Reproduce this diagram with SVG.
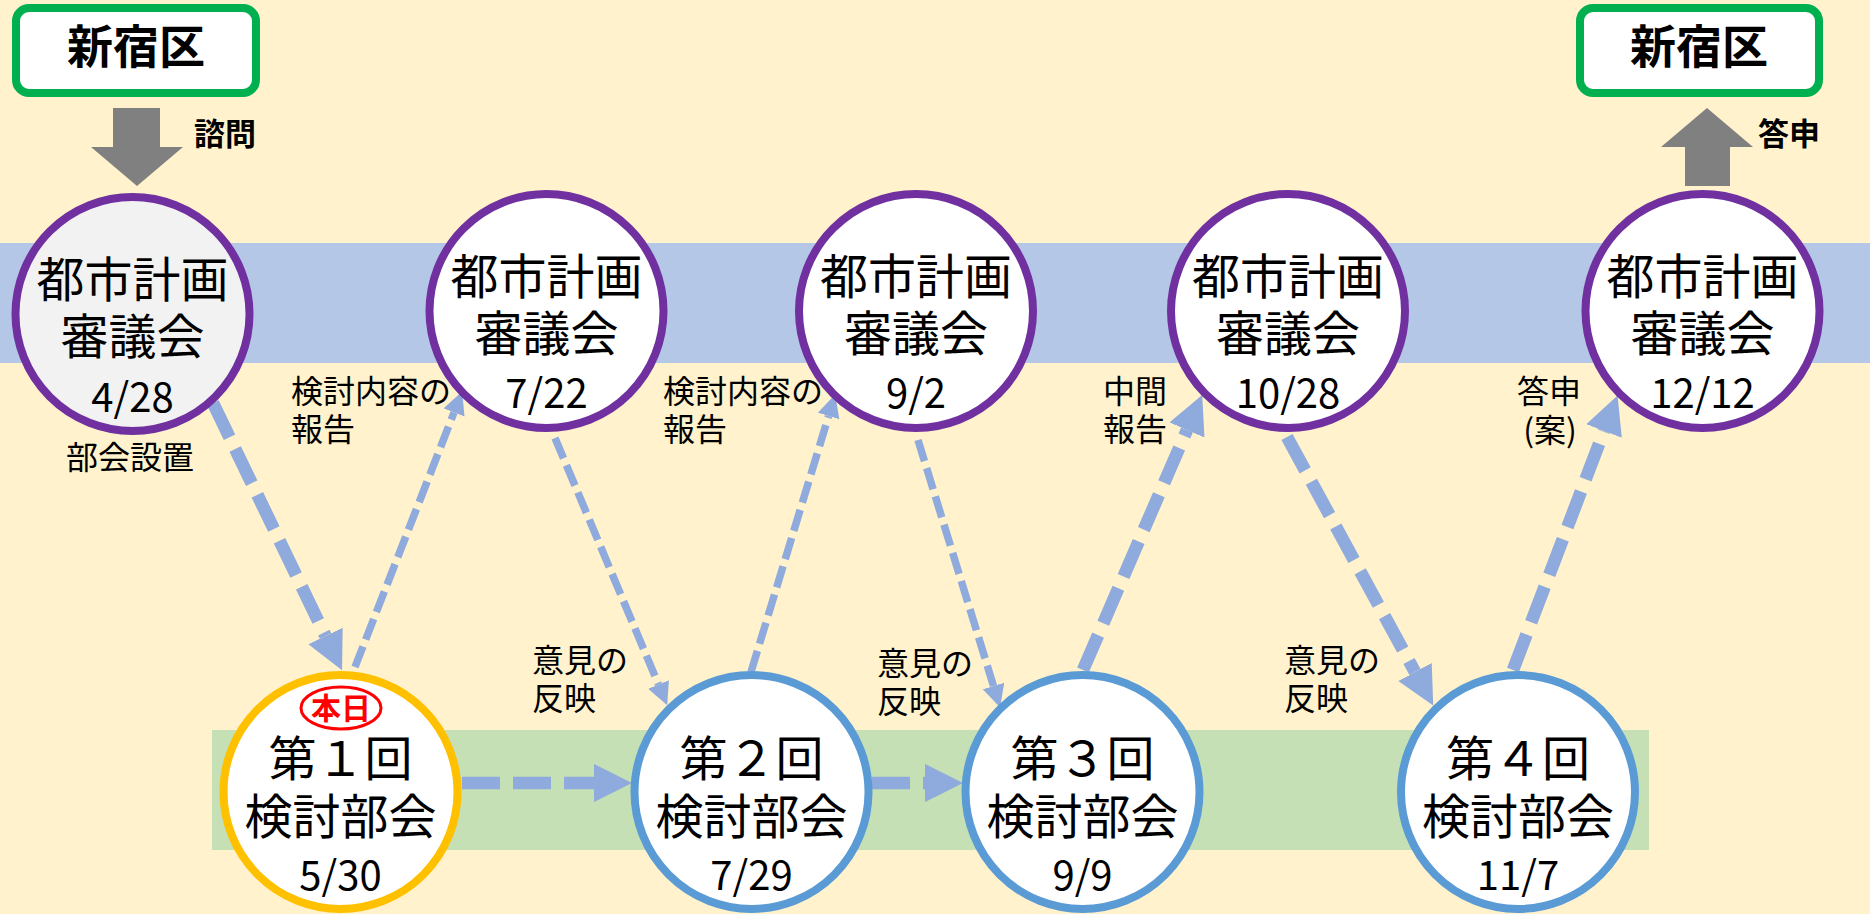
<svg xmlns="http://www.w3.org/2000/svg" width="1870" height="914" viewBox="0 0 1870 914">
<style>
text{font-family:"Noto Sans CJK JP","Noto Sans",sans-serif;fill:#000;text-anchor:middle}
.big{font-size:48px}
.date{font-size:40px}
.lbl{font-size:32px;text-anchor:start}
.bold{font-weight:bold}
.council{fill:#fff;stroke:#7030a0;stroke-width:8}
.sub{fill:#fff;stroke:#5b9bd5;stroke-width:8}
.thick{stroke:#8faadc;stroke-width:12.7;stroke-dasharray:38 13;fill:none;marker-end:url(#ah)}
.thin{stroke:#8faadc;stroke-width:7.5;stroke-dasharray:22 7.5;fill:none;marker-end:url(#ah)}
.ward{fill:#fff;stroke:#00b050;stroke-width:8}
</style>
<defs>
<marker id="ah" viewBox="0 0 3 3" refX="0" refY="1.5" markerWidth="3" markerHeight="3" markerUnits="strokeWidth" orient="auto">
<path d="M0,0 L3,1.5 L0,3 z" fill="#8faadc"/>
</marker>
</defs>
<rect x="0" y="0" width="1870" height="914" fill="#fff2cc"/>
<rect x="0" y="243" width="1870" height="120" fill="#b4c7e7"/>
<rect x="212" y="730" width="1437" height="120" fill="#c5e0b4"/>

<g id="connectors">
<polygon points="113,108 160,108 160,147 183,147 137,186 91,147 113,147" fill="#808080"/>
<polygon points="1707,108 1753,147 1730,147 1730,186 1685,186 1685,147 1661,147" fill="#808080"/>
<line class="thick" x1="213" y1="403" x2="325.5" y2="636"/>
<line class="thin" x1="355" y1="667" x2="454" y2="412.5"/>
<line class="thin" x1="555" y1="438" x2="658.5" y2="684.5"/>
<line class="thin" x1="751" y1="672" x2="828.6" y2="416"/>
<line class="thin" x1="918" y1="440" x2="993.5" y2="686"/>
<line class="thick" x1="1083" y1="670" x2="1187" y2="430"/>
<line class="thick" x1="1287" y1="437" x2="1415" y2="672"/>
<line class="thick" x1="1513" y1="670" x2="1604" y2="431"/>
<line class="thick" x1="462" y1="783" x2="594" y2="783"/>
<line class="thick" x1="872" y1="783" x2="925" y2="783"/>
<text class="bold" x="225" y="145" style="font-size:31px">諮問</text>
<text class="bold" x="1789" y="145" style="font-size:31px">答申</text>
<text class="lbl" x="291" y="403">検討内容の</text>
<text class="lbl" x="291" y="441">報告</text>
<text class="lbl" x="663" y="403">検討内容の</text>
<text class="lbl" x="663" y="441">報告</text>
<text class="lbl" x="66" y="469">部会設置</text>
<text class="lbl" x="1103" y="403">中間</text>
<text class="lbl" x="1103" y="441">報告</text>
<text class="lbl" x="1517" y="403">答申</text>
<text x="1550" y="442" style="font-size:32px">(案)</text>
<text class="lbl" x="532" y="672">意見の</text>
<text class="lbl" x="532" y="710">反映</text>
<text class="lbl" x="877" y="675">意見の</text>
<text class="lbl" x="877" y="713">反映</text>
<text class="lbl" x="1284" y="672">意見の</text>
<text class="lbl" x="1284" y="710">反映</text>
</g>

<g id="ward-left">
<rect class="ward" x="16" y="8" width="240" height="85" rx="13"/>
<text class="bold" x="136" y="63" style="font-size:46px">新宿区</text>
</g>
<g id="ward-right">
<rect class="ward" x="1580" y="8" width="239" height="85" rx="13"/>
<text class="bold" x="1699" y="63" style="font-size:46px">新宿区</text>
</g>

<g id="council-0428">
<circle class="council" cx="132.5" cy="314" r="117" style="fill:#f2f2f2"/>
<text class="big" x="132.5" y="297">都市計画</text>
<text class="big" x="132.5" y="354">審議会</text>
<text class="date" x="132.5" y="412">4/28</text>
</g>
<g id="council-0722">
<circle class="council" cx="546.5" cy="311" r="117"/>
<text class="big" x="546.5" y="294">都市計画</text>
<text class="big" x="546.5" y="351">審議会</text>
<text class="date" x="546.5" y="408">7/22</text>
</g>
<g id="council-0902">
<circle class="council" cx="916" cy="311" r="117"/>
<text class="big" x="916" y="294">都市計画</text>
<text class="big" x="916" y="351">審議会</text>
<text class="date" x="916" y="408">9/2</text>
</g>
<g id="council-1028">
<circle class="council" cx="1288" cy="311" r="117"/>
<text class="big" x="1288" y="294">都市計画</text>
<text class="big" x="1288" y="351">審議会</text>
<text class="date" x="1288" y="408">10/28</text>
</g>
<g id="council-1212">
<circle class="council" cx="1702.5" cy="311" r="117"/>
<text class="big" x="1702.5" y="294">都市計画</text>
<text class="big" x="1702.5" y="351">審議会</text>
<text class="date" x="1702.5" y="408">12/12</text>
</g>

<g id="sub-1">
<circle class="sub" cx="340.5" cy="792" r="117" style="stroke:#ffc000"/>
<ellipse cx="341" cy="708" rx="40" ry="21" fill="#fff" stroke="#ff0000" stroke-width="3"/>
<text class="bold" x="341" y="719" style="font-size:30px;fill:#ff0000">本日</text>
<text class="big" x="340.5" y="776">第１回</text>
<text class="big" x="340.5" y="834">検討部会</text>
<text class="date" x="340.5" y="890">5/30</text>
</g>
<g id="sub-2">
<circle class="sub" cx="751.5" cy="792" r="117"/>
<text class="big" x="751.5" y="776">第２回</text>
<text class="big" x="751.5" y="834">検討部会</text>
<text class="date" x="751.5" y="890">7/29</text>
</g>
<g id="sub-3">
<circle class="sub" cx="1082.5" cy="792" r="117"/>
<text class="big" x="1082.5" y="776">第３回</text>
<text class="big" x="1082.5" y="834">検討部会</text>
<text class="date" x="1082.5" y="890">9/9</text>
</g>
<g id="sub-4">
<circle class="sub" cx="1518" cy="792" r="117"/>
<text class="big" x="1518" y="776">第４回</text>
<text class="big" x="1518" y="834">検討部会</text>
<text class="date" x="1518" y="890">11/7</text>
</g>
</svg>
